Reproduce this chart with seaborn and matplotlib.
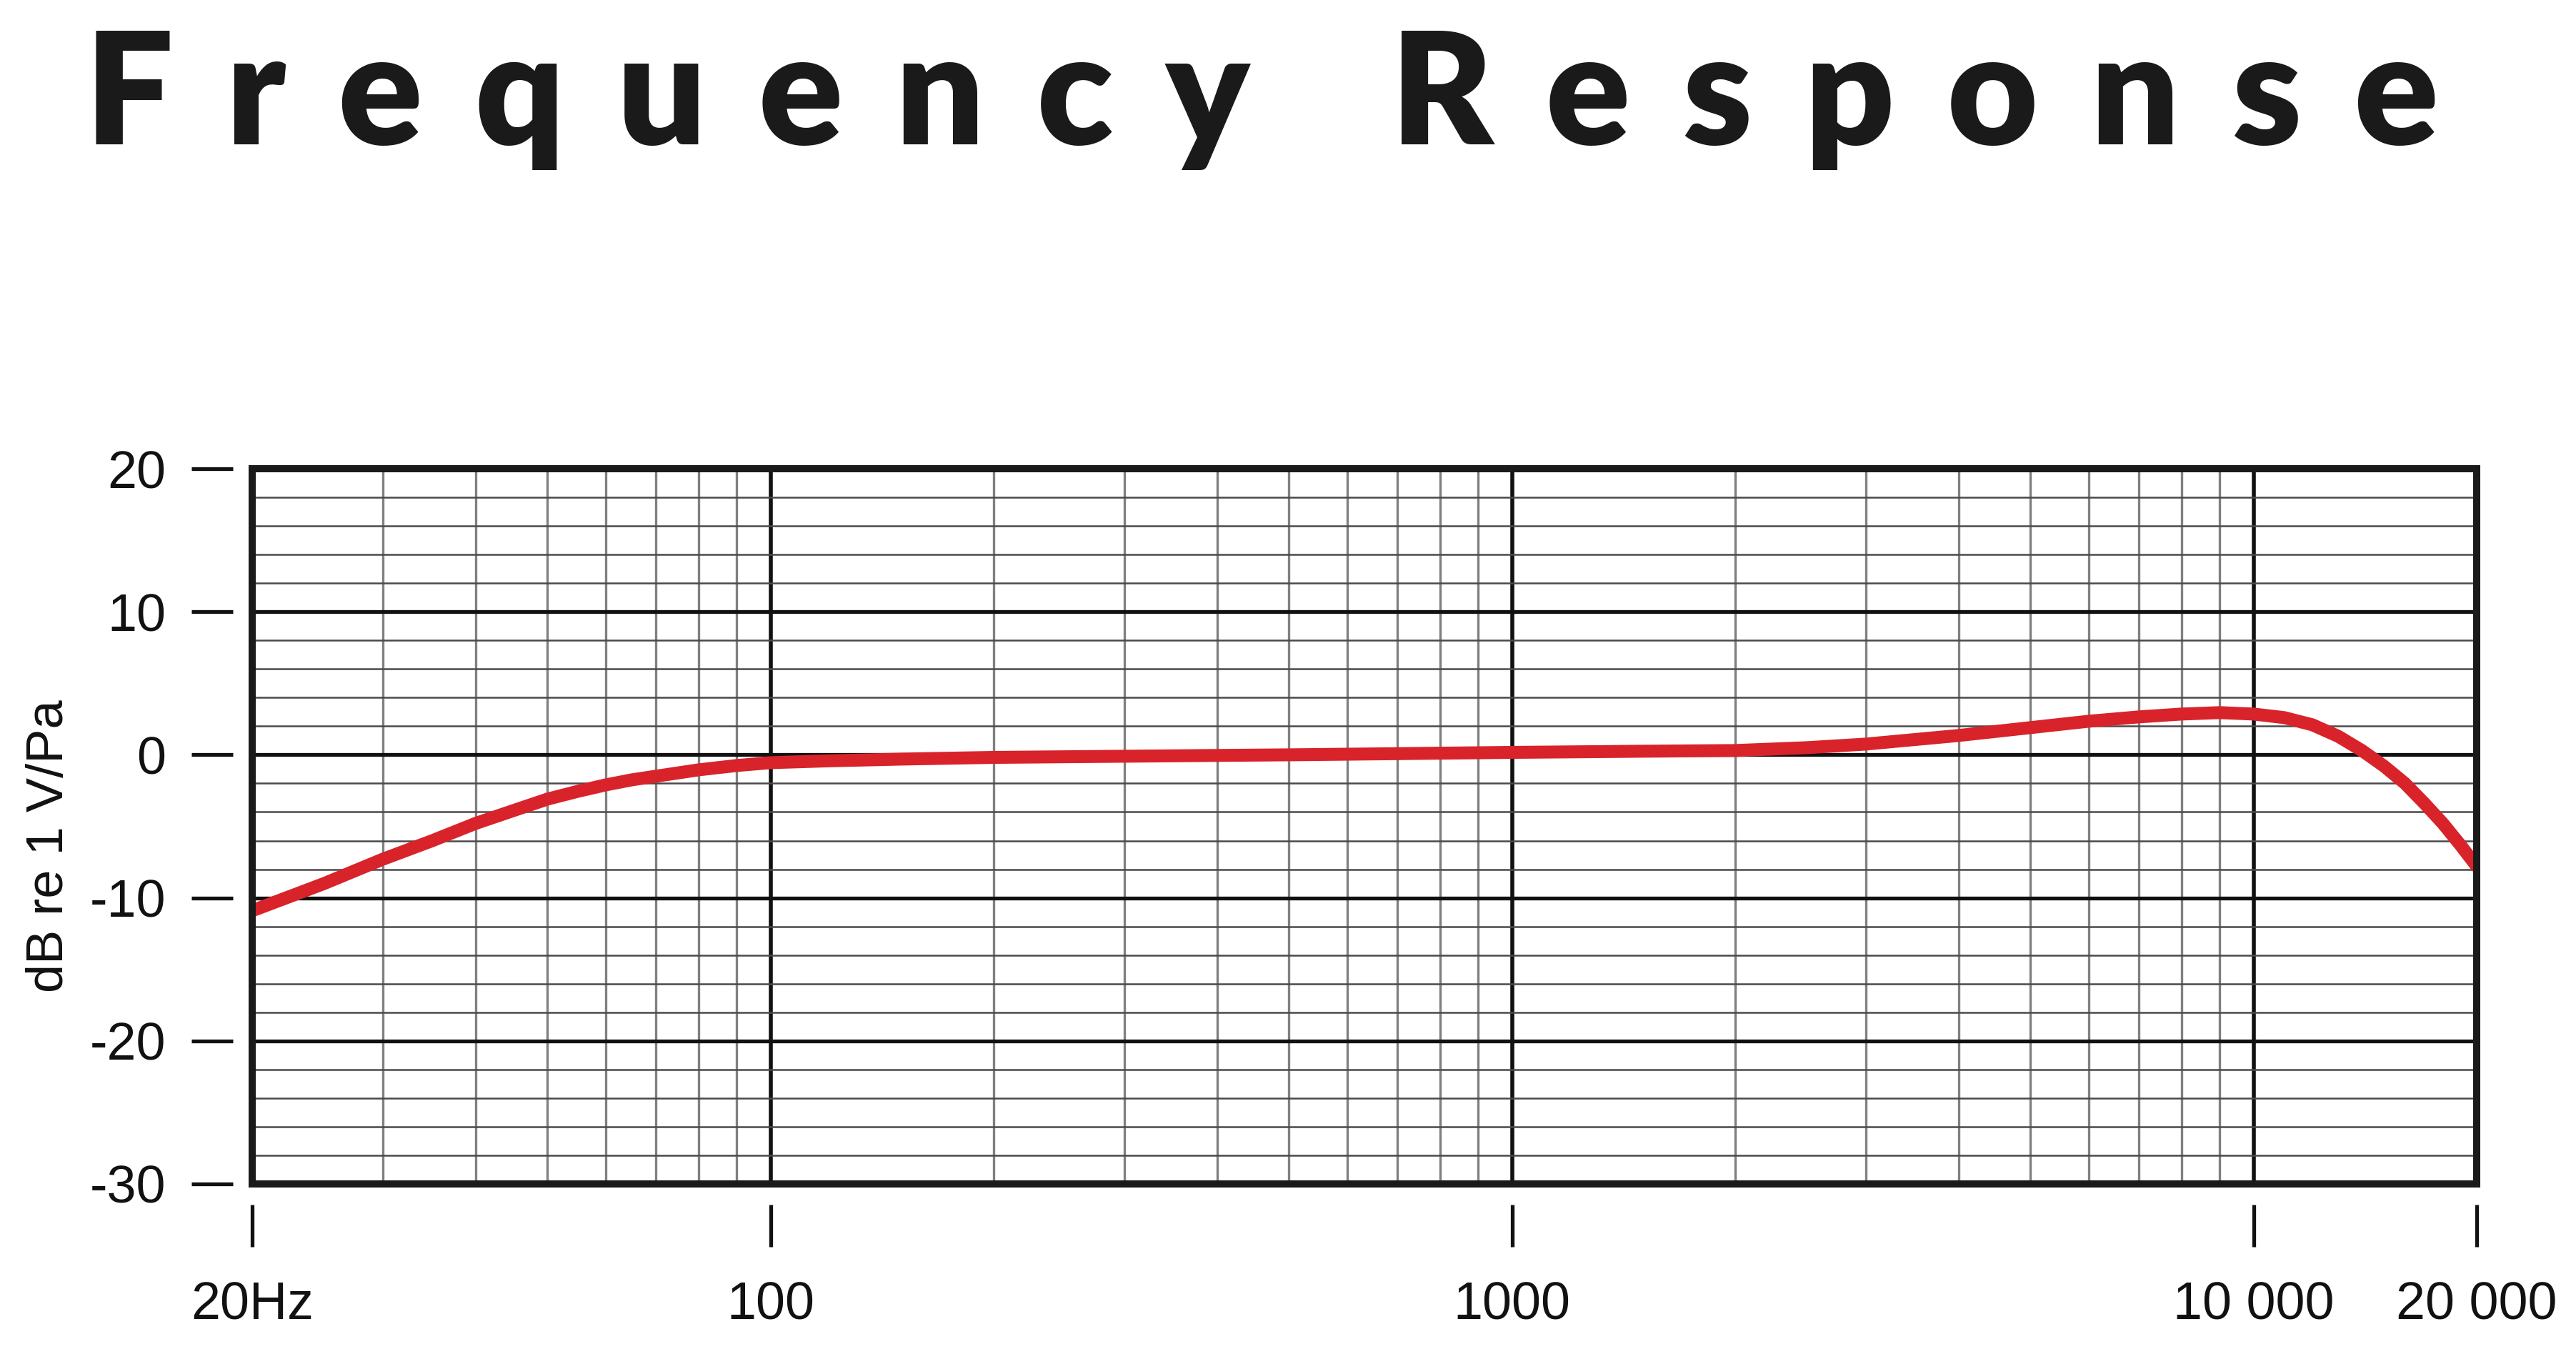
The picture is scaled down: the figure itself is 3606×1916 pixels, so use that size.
# Curva de respuesta en frecuencia (micrófono) con seaborn
import numpy as np
import pandas as pd
import matplotlib.pyplot as plt
import matplotlib.ticker as mticker
import seaborn as sns

# Datos
freq_hz = [20, 25, 30, 35, 40, 45, 50, 55, 60, 65, 70, 80, 90, 100, 120, 150, 200, 300,
           500, 700, 1000, 1500, 2000, 2500, 3000, 4000, 5000, 6000, 7000, 8000, 9000,
           10000, 11000, 12000, 13000, 14000, 15000, 16000, 17000, 18000, 19000, 20000]
response_db = [-10.9, -9.0, -7.3, -6.0, -4.8, -3.9, -3.1, -2.55, -2.1, -1.75, -1.5, -1.05,
               -0.75, -0.55, -0.42, -0.3, -0.18, -0.1, 0.0, 0.08, 0.17, 0.25, 0.3, 0.5,
               0.75, 1.35, 1.9, 2.35, 2.65, 2.85, 2.95, 2.85, 2.6, 2.1, 1.3, 0.3, -0.8,
               -2.0, -3.4, -4.8, -6.3, -7.8]

x_ticks = [20, 100, 1000, 10000, 20000]
x_tick_labels = ["20Hz", "100", "1000", "10 000", "20 000"]
x_major_grid = [100, 1000, 10000]
y_ticks = [20, 10, 0, -10, -20, -30]
y_label = "dB re 1 V/Pa"
title = "Frequency Response"

df = pd.DataFrame({"freq": freq_hz, "db": response_db})

sns.set_style("white")
plt.rcParams["font.family"] = ["Liberation Sans", "DejaVu Sans"]

fig = plt.figure(figsize=(18.03, 9.58), dpi=200)
pos = [0.0979, 0.1352, 0.8636, 0.5224]

# Ejes principales: cuadrícula y curva
ax = fig.add_axes(pos)
ax.set_xscale("log")
ax.set_xlim(20, 20000)
ax.set_ylim(-30, 20)
ax.xaxis.set_major_locator(mticker.FixedLocator(x_major_grid))
ax.xaxis.set_minor_locator(mticker.LogLocator(base=10, subs=np.arange(2, 10)))
ax.yaxis.set_major_locator(mticker.MultipleLocator(10))
ax.yaxis.set_minor_locator(mticker.MultipleLocator(2))
ax.set_axisbelow(True)
ax.grid(which="minor", axis="x", color="#808080", lw=1.2)
ax.grid(which="major", axis="x", color="#111111", lw=2.0)
ax.grid(which="minor", axis="y", color="#4a4a4a", lw=0.9)
ax.grid(which="major", axis="y", color="#111111", lw=1.9)
ax.tick_params(which="both", length=0, labelbottom=False, labelleft=False)
for s in ax.spines.values():
    s.set_visible(True)
    s.set_linewidth(3.6)
    s.set_color("#1a1a1a")

sns.lineplot(data=df, x="freq", y="db", ax=ax, color="#d8232b", lw=6.5)
ax.set_xlabel("")
ax.set_ylabel("")

# Ejes superpuestos solo para las marcas separadas del recuadro
axt = fig.add_axes(pos, facecolor="none")
axt.set_xscale("log")
axt.set_xlim(20, 20000)
axt.set_ylim(-30, 20)
axt.xaxis.set_major_locator(mticker.FixedLocator(x_ticks))
axt.xaxis.set_major_formatter(mticker.FixedFormatter(x_tick_labels))
axt.xaxis.set_minor_locator(mticker.NullLocator())
axt.yaxis.set_major_locator(mticker.FixedLocator(y_ticks))
axt.yaxis.set_major_formatter(mticker.FormatStrFormatter("%d"))
axt.yaxis.set_minor_locator(mticker.NullLocator())
for side in ["top", "right"]:
    axt.spines[side].set_visible(False)
axt.spines["left"].set_position(("outward", 30.6))
axt.spines["bottom"].set_position(("outward", 31.7))
axt.spines["left"].set_visible(False)
axt.spines["bottom"].set_visible(False)
axt.tick_params(axis="y", left=True, direction="in", length=20.9, width=1.9,
                color="#111111", pad=13, labelsize=26.5, labelcolor="#111111")
axt.tick_params(axis="x", bottom=True, direction="in", length=21.2, width=1.9,
                color="#111111", pad=17, labelsize=26.5, labelcolor="#111111")
axt.grid(False)

# Etiqueta del eje Y
fig.text(0.0194, 0.382, y_label, rotation=90, ha="center", va="center",
         fontsize=26, color="#111111")

# Título con letras espaciadas (espacio de 1/3 em entre letras)
gap = "\u2004"
spaced = (gap * 2 + " ").join(gap.join(w) for w in title.split())
fig.text(0.033, 0.8946, spaced, ha="left", va="baseline", fontsize=79,
         fontweight="heavy", color="#1a1a1a",
         family=["Lato", "Liberation Sans", "DejaVu Sans"])

fig.savefig("out.png", dpi=200)
